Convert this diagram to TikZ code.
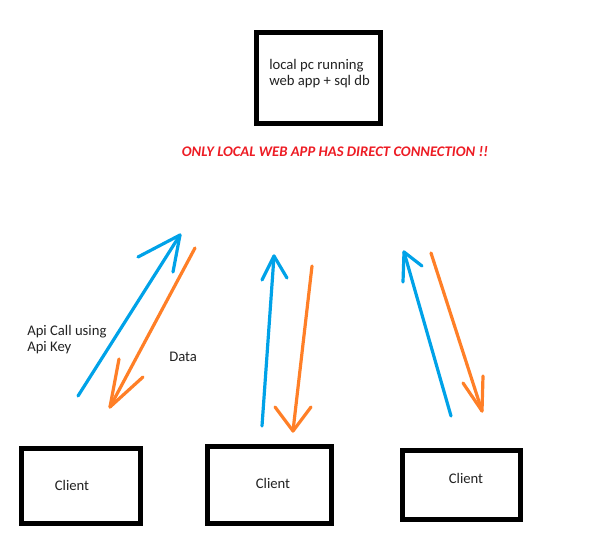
\documentclass[tikz,border=0pt]{standalone}
\usepackage{fontspec}
\setmainfont{Carlito}
\definecolor{pblue}{HTML}{00A2E8}
\definecolor{porange}{HTML}{FF7F27}
\definecolor{pred}{HTML}{ED1C24}
\definecolor{ptext}{HTML}{222222}
\begin{document}
\begin{tikzpicture}[x=0.75pt,y=-0.75pt,
  boxstyle/.style={draw=black,line width=3.75pt,fill=white,rectangle,inner sep=0pt},
  lbl/.style={inner sep=0pt,font=\fontsize{11pt}{14pt}\selectfont,text=ptext},
  bluearr/.style={draw=pblue,line width=2.4pt,line cap=round,line join=round},
  orangearr/.style={draw=porange,line width=2.4pt,line cap=round,line join=round}]
\useasboundingbox (0,0) rectangle (592,534);
% server box
\node[boxstyle,minimum width=124*0.75pt,minimum height=91*0.75pt] (server) at (318,78.5) {};
\node[lbl,anchor=west,align=left] (servertxt) at (269,73.5) {local pc running\\[-1.5pt]web app + sql db};
% warning
\node[inner sep=0pt,text=pred,font=\fontsize{11pt}{13pt}\selectfont\bfseries\itshape] (warn) at (335,152) {ONLY LOCAL WEB APP HAS DIRECT CONNECTION !!};
% clients
\node[boxstyle,minimum width=119*0.75pt,minimum height=75*0.75pt] (c1) at (80.5,485.5) {};
\node[boxstyle,minimum width=124*0.75pt,minimum height=77*0.75pt] (c2) at (269,484.5) {};
\node[boxstyle,minimum width=118*0.75pt,minimum height=69*0.75pt] (c3) at (461,484.5) {};
\node[lbl] (c1t) at (72,485) {Client};
\node[lbl] (c2t) at (273,483) {Client};
\node[lbl] (c3t) at (466,478) {Client};
% labels
\node[lbl,anchor=west,align=left] (api) at (27,339.5) {Api Call using\\[-1.5pt]Api Key};
\node[lbl,anchor=west] (data) at (169,357) {Data};
% arrow coordinates
\coordinate (b1s) at (78,396); \coordinate (b1t) at (180,235);
\coordinate (b1h1) at (138,257); \coordinate (b1h2) at (173,272);
\coordinate (o1s) at (195,248); \coordinate (o1t) at (110,407);
\coordinate (o1h1) at (119,359); \coordinate (o1h2) at (143,377);
\coordinate (b2s) at (262,426); \coordinate (b2t) at (274,256);
\coordinate (b2h1) at (262,280); \coordinate (b2h2) at (287,278);
\coordinate (o2s) at (312,266); \coordinate (o2t) at (293,431);
\coordinate (o2h1) at (275,407); \coordinate (o2h2) at (311,407);
\coordinate (b3s) at (451,416); \coordinate (b3t) at (404,252);
\coordinate (b3h1) at (403,282); \coordinate (b3h2) at (422,266);
\coordinate (o3s) at (431,253); \coordinate (o3t) at (482,411);
\coordinate (o3h1) at (463,383); \coordinate (o3h2) at (483,376);
% arrows
\draw[bluearr] (b1s) -- (b1t); \draw[bluearr] (b1h1) -- (b1t) -- (b1h2);
\draw[orangearr] (o1s) -- (o1t); \draw[orangearr] (o1h1) -- (o1t) -- (o1h2);
\draw[bluearr] (b2s) -- (b2t); \draw[bluearr] (b2h1) -- (b2t) -- (b2h2);
\draw[orangearr] (o2s) -- (o2t); \draw[orangearr] (o2h1) -- (o2t) -- (o2h2);
\draw[bluearr] (b3s) -- (b3t); \draw[bluearr] (b3h1) -- (b3t) -- (b3h2);
\draw[orangearr] (o3s) -- (o3t); \draw[orangearr] (o3h1) -- (o3t) -- (o3h2);
\end{tikzpicture}
\end{document}
